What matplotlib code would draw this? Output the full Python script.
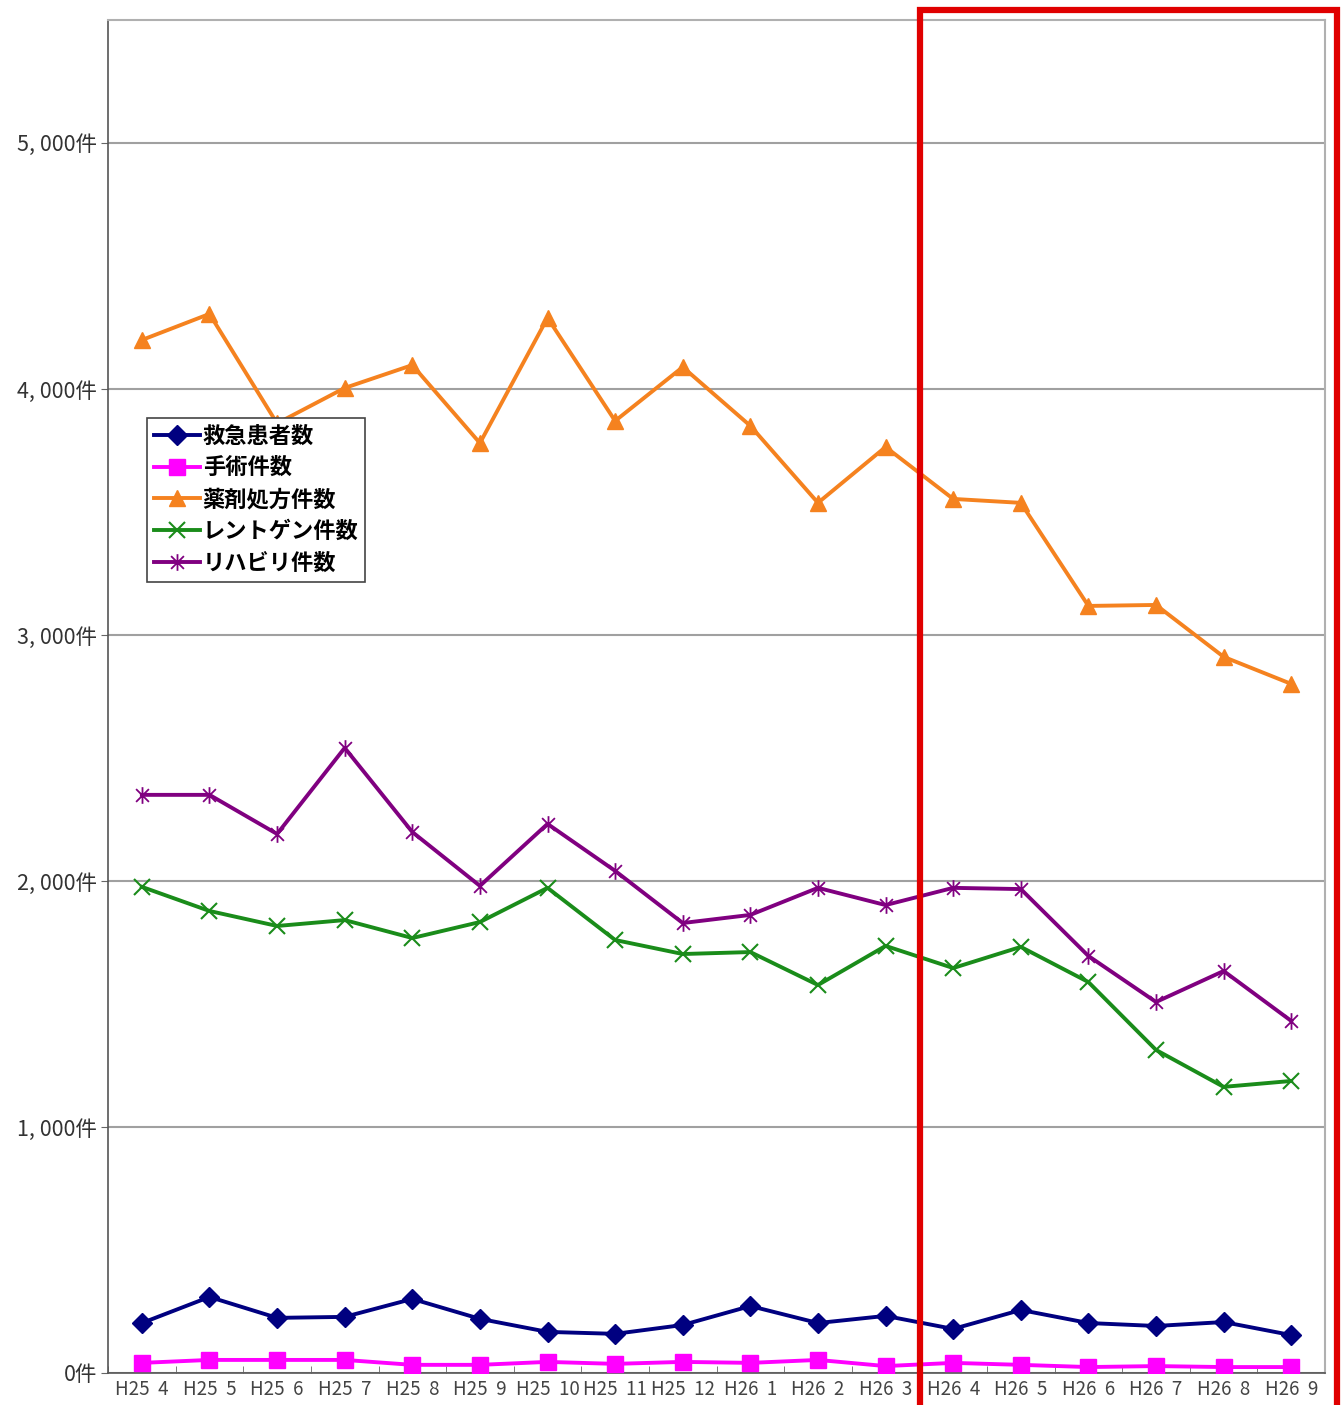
import numpy as np
import matplotlib.pyplot as plt
import matplotlib.patches as patches
from matplotlib.path import Path

plt.rcParams['font.family'] = ['Noto Sans CJK JP', 'DejaVu Sans']

# months H25.4 - H26.9
months = ['H25  4', 'H25  5', 'H25  6', 'H25  7', 'H25  8', 'H25  9', 'H25  10', 'H25  11', 'H25  12',
          'H26  1', 'H26  2', 'H26  3', 'H26  4', 'H26  5', 'H26  6', 'H26  7', 'H26  8', 'H26  9']

kyukyu = [203, 309, 224, 228, 301, 220, 167, 159, 195, 272, 203, 232, 179, 256, 203, 191, 207, 154]
shujutsu = [41, 53, 53, 53, 33, 33, 45, 37, 45, 41, 53, 28, 41, 33, 24, 28, 24, 24]
yakuzai = [4199, 4305, 3860, 4004, 4097, 3780, 4289, 3870, 4089, 3850, 3537, 3764,
           3553, 3537, 3118, 3122, 2911, 2801]
rentogen = [1976, 1878, 1817, 1841, 1768, 1833, 1972, 1760, 1703, 1711, 1577, 1736,
            1646, 1732, 1589, 1313, 1163, 1187]
rihabiri = [2350, 2350, 2191, 2541, 2199, 1980, 2232, 2041, 1829, 1862, 1972, 1902,
            1972, 1967, 1695, 1508, 1634, 1431]

yticks = [0, 1000, 2000, 3000, 4000, 5000]
ytick_labels = ['0件', '1, 000件', '2, 000件', '3, 000件', '4, 000件', '5, 000件']

# excel style star marker (x plus vertical bar)
star = Path([(-1, -1), (1, 1), (-1, 1), (1, -1), (0, -1.3), (0, 1.3)],
            [Path.MOVETO, Path.LINETO, Path.MOVETO, Path.LINETO, Path.MOVETO, Path.LINETO])

fig = plt.figure(figsize=(13.44, 14.05), dpi=100)
ax = fig.add_axes([0.0804, 0.0228, 0.9055, 0.963])
x = np.arange(len(months))

ax.plot(x, kyukyu, color='#000080', lw=2.8, marker='D', ms=10, label='救急患者数', zorder=5)
ax.plot(x, shujutsu, color='#FF00FF', lw=2.8, marker='s', ms=12, label='手術件数', zorder=5)
ax.plot(x, yakuzai, color='#F5821F', lw=2.8, marker='^', ms=12, label='薬剤処方件数', zorder=5)
ax.plot(x, rentogen, color='#1A8C1A', lw=2.8, marker='x', ms=11, mew=1.5, label='レントゲン件数', zorder=5)
ax.plot(x, rihabiri, color='#800080', lw=2.8, marker=star, ms=12, mew=1.3, label='リハビリ件数', zorder=5)

ax.set_xlim(-0.5, len(months) - 0.5)
ax.set_ylim(0, 5500)
ax.set_yticks(yticks)
ax.set_yticklabels(ytick_labels, fontsize=15.5, color='#333333')
ax.set_xticks(x)
ax.set_xticklabels(months, fontsize=13.5, color='#444444')
ax.tick_params(axis='x', length=0, pad=4)
ax.tick_params(axis='y', length=5, direction='out', color='#666666', pad=3)
ax.set_xticks(np.arange(-0.5, len(months)), minor=True)
ax.tick_params(axis='x', which='minor', length=5, direction='in', color='#666666')

ax.grid(axis='y', color='#A0A0A0', lw=1.5)
ax.set_axisbelow(True)
for side in ['top', 'right']:
    ax.spines[side].set_color('#B0B0B0')
    ax.spines[side].set_linewidth(1.5)
for side in ['left', 'bottom']:
    ax.spines[side].set_color('#555555')
    ax.spines[side].set_linewidth(1.2)

leg = ax.legend(loc='upper left', bbox_to_anchor=(0.032, 0.706),
                prop={'size': 16, 'weight': 'bold'},
                frameon=True, fancybox=False, edgecolor='#444444', framealpha=1,
                handlelength=2.1, borderpad=0.3, labelspacing=0.4, handletextpad=0.1,
                borderaxespad=0)
leg.get_frame().set_linewidth(1.2)

# red highlight box over H26 period
rect = patches.Rectangle((0.6845, -0.02), 0.3105, 1.0129, transform=fig.transFigure,
                         fill=False, edgecolor='#E00000', lw=4.5, clip_on=False, zorder=10)
fig.patches.append(rect)

fig.savefig('out.png', dpi=100)
